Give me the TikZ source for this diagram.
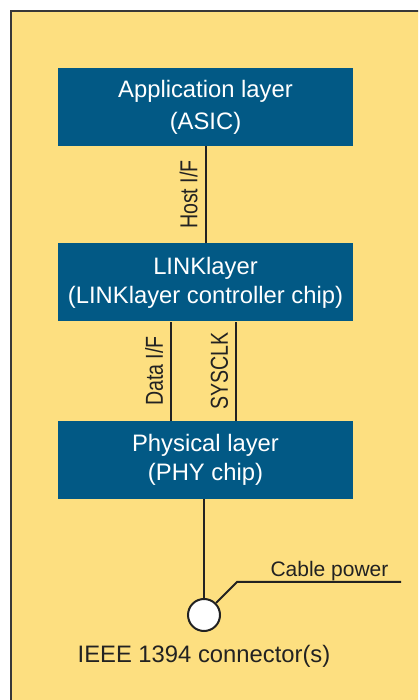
\documentclass[tikz,border=0pt]{standalone}
\usepackage{fontspec}
\usepackage{graphicx}
\setmainfont{Liberation Sans}
\usetikzlibrary{positioning}

\definecolor{layerblue}{RGB}{2,89,133}
\definecolor{panelyellow}{RGB}{253,223,128}
\definecolor{wire}{RGB}{34,34,34}

% narrow lettering for the bus names
\newcommand{\narrowtext}[1]{\scalebox{0.8}[1]{#1}}

\tikzset{
  layer/.style={fill=layerblue, text=white, align=center, minimum width=295pt,
    minimum height=78pt, font=\fontsize{23.8}{32}\selectfont},
  tightlayer/.style={layer, font=\fontsize{23.8}{29}\selectfont},
  bus/.style={draw=wire, line width=2pt},
  buslabel/.style={font=\fontsize{24.5}{26}\selectfont, text=wire, inner sep=7pt},
}

\begin{document}
\begin{tikzpicture}[x=1pt,y=1pt,node distance=97pt]
    \useasboundingbox (0,0) rectangle (418,700);
    \begin{scope}
        \clip (0,0) rectangle (418,700);
        \draw[fill=panelyellow, draw=wire!90, line width=1.5pt] (11,-5) rectangle (425,689);
    \end{scope}

    \node (app) [layer] at (205.5,593) {Application layer\\(ASIC)};
    \node (link) [tightlayer, below=97pt of app] {LINKlayer\\(LINKlayer controller chip)};
    \node (phy) [tightlayer, below=99pt of link] {Physical layer\\(PHY chip)};
    \node (conn) [circle, draw=wire, line width=2pt, fill=white, minimum size=32pt,
        inner sep=0pt] at (204,85) {};
    \node (ieee) [below=10pt of conn, text=wire, font=\fontsize{23.8}{28}\selectfont]
        {IEEE 1394 connector(s)};

    % buses between the layers
    \draw[bus] (link.north) -- node[buslabel, sloped, above] {\narrowtext{Host I/F}} (app.south);
    \draw[bus] ([xshift=-34.5pt]phy.north) -- node[buslabel, sloped, above] {\narrowtext{Data I/F}}
        ([xshift=-34.5pt]link.south);
    \draw[bus] ([xshift=30.5pt]phy.north) -- node[buslabel, sloped, above] {\narrowtext{SYSCLK}}
        ([xshift=30.5pt]link.south);
    \draw[bus] (phy.south -| conn) -- (conn.north);

    % cable power lead
    \coordinate (bend) at (237,118);
    \coordinate (lead) at (401,118);
    \draw[bus] (conn.45) -- (bend) -- (lead);
    \node (power) [anchor=south, text=wire, inner sep=2pt, font=\fontsize{21}{24}\selectfont]
        at (329.5,117) {Cable power};
\end{tikzpicture}
\end{document}
